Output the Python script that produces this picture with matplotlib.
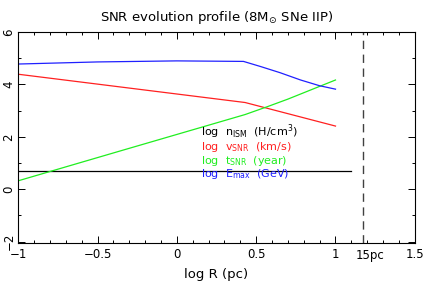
import matplotlib
matplotlib.use('Agg')
import matplotlib.pyplot as plt
from matplotlib.ticker import MultipleLocator

plt.rcParams['font.family'] = 'DejaVu Sans'
plt.rcParams['mathtext.default'] = 'regular'

# values (log scale)
logR_n = [-1.0, 1.1]
log_n = [0.7, 0.7]

logR_v = [-1.0, 0.43, 1.0]
log_v = [4.39, 3.31, 2.41]

logR_t = [-1.0, -0.34, 0.43, 0.57, 0.70, 1.0]
log_t = [0.32, 1.49, 2.85, 3.15, 3.44, 4.17]

logR_E = [-1.0, -0.5, 0.0, 0.42, 0.53, 0.65, 0.78, 0.9, 1.0]
log_E = [4.78, 4.86, 4.9, 4.88, 4.68, 4.45, 4.17, 3.95, 3.82]

R_limit = 1.176  # log10(15 pc)

fig = plt.figure(figsize=(4.25, 2.84), dpi=100)
ax = fig.add_axes([0.043, 0.145, 0.933, 0.742])

ax.plot(logR_n, log_n, color='black', lw=0.9)
ax.plot(logR_v, log_v, color='#ff2020', lw=0.9)
ax.plot(logR_t, log_t, color='#20ee20', lw=0.9)
ax.plot(logR_E, log_E, color='#2020ff', lw=0.9)
ax.axvline(R_limit, color='#404040', lw=1.0, ls=(0, (6, 4)))

fs = 8.5
ax.set_xlim(-1, 1.5)
ax.set_ylim(-2.05, 6)
ax.xaxis.set_minor_locator(MultipleLocator(0.1))
ax.yaxis.set_minor_locator(MultipleLocator(1))
ax.tick_params(which='both', direction='in', top=True, right=True, labelsize=fs, width=0.7)
ax.tick_params(which='major', length=5)
ax.tick_params(which='minor', length=2.5)
ax.set_xticks([-1, -0.5, 0, 0.5, 1, 1.5])
ax.set_xticklabels(['\u22121', '\u22120.5', '0', '0.5', '1', '1.5'])
ax.set_yticks([-2, 0, 2, 4, 6])
ax.set_yticklabels(['\u22122', '0', '2', '4', '6'], rotation=90, va='center')
ax.tick_params(axis='y', pad=2)
ax.tick_params(axis='x', pad=4)
for s in ax.spines.values():
    s.set_linewidth(0.8)

ax.text(R_limit + 0.04, -2.3, '15pc', ha='center', va='top', fontsize=fs, clip_on=False)

ax.set_xlabel('log R (pc)', fontsize=9.5, labelpad=5)
ax.set_title(r'SNR evolution profile (8M$_{\odot}$ SNe IIP)', fontsize=9.5, pad=8)

tx = 0.15
lfs = 8
ax.text(tx, 2.2, r'log  n$_{ISM}$  (H/cm$^3$)', color='black', fontsize=lfs, va='center')
ax.text(tx, 1.6, r'log  v$_{SNR}$  (km/s)', color='#ff2020', fontsize=lfs, va='center')
ax.text(tx, 1.08, r'log  t$_{SNR}$  (year)', color='#20ee20', fontsize=lfs, va='center')
ax.text(tx, 0.56, r'log  E$_{max}$  (GeV)', color='#2020ff', fontsize=lfs, va='center')

fig.savefig('out.png', dpi=100)
